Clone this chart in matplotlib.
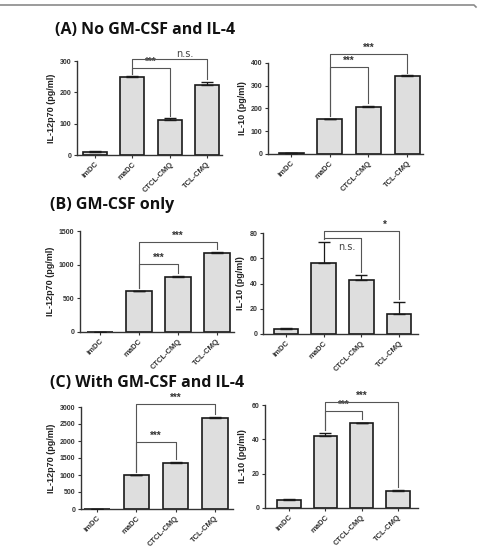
import matplotlib
matplotlib.use('Agg')
import matplotlib.pyplot as plt
from matplotlib.lines import Line2D

categories = ['imDC', 'maDC', 'CTCL-CMQ', 'TCL-CMQ']

a_il12_values = [10, 248, 113, 225]
a_il12_errors = [3, 3, 4, 8]
a_il10_values = [3, 155, 208, 345]
a_il10_errors = [1, 1, 3, 1]
b_il12_values = [5, 610, 820, 1178]
b_il12_errors = [1, 3, 10, 5]
b_il10_values = [3.7, 56, 43, 16]
b_il10_errors = [1.3, 17, 4, 9]
c_il12_values = [5, 995, 1363, 2680]
c_il12_errors = [1, 15, 5, 25]
c_il10_values = [4.8, 42.2, 49.4, 10]
c_il10_errors = [0.2, 1.5, 0.4, 0.5]

# significance brackets: (from, to, height, label)
a_il12_sig = [(1, 2, 278, '***'), (1, 3, 306, 'n.s.')]
a_il10_sig = [(1, 2, 382, '***'), (1, 3, 440, '***')]
b_il12_sig = [(1, 2, 1008, '***'), (1, 3, 1335, '***')]
b_il10_sig = [(1, 2, 76.3, 'n.s.'), (1, 3, 81.6, '*')]
c_il12_sig = [(1, 2, 1975, '***'), (1, 3, 3090, '***')]
c_il10_sig = [(1, 2, 56.3, '***'), (1, 3, 61.8, '***')]

ylabels = ['IL-12p70 (pg/ml)', 'IL-10 (pg/ml)']
titles = ['(A) No GM-CSF and IL-4', '(B) GM-CSF only', '(C) With GM-CSF and IL-4']

fig = plt.figure(figsize=(4.78, 5.53), dpi=100)
W, H = 478, 553

def rect(x0, x1, ytop, ybot):
    return [x0 / W, 1 - ybot / H, (x1 - x0) / W, (ybot - ytop) / H]

panels = [
    (rect(77, 222, 61, 155), a_il12_values, a_il12_errors, a_il12_sig, 300, 100, ylabels[0], (-0.48, 3.4)),
    (rect(268, 423, 63, 154), a_il10_values, a_il10_errors, a_il10_sig, 400, 100, ylabels[1], (-0.6, 3.41)),
    (rect(80, 234, 231, 332), b_il12_values, b_il12_errors, b_il12_sig, 1500, 500, ylabels[0], (-0.51, 3.44)),
    (rect(263, 418, 233, 334), b_il10_values, b_il10_errors, b_il10_sig, 80, 20, ylabels[1], (-0.61, 3.5)),
    (rect(81, 233, 407, 509), c_il12_values, c_il12_errors, c_il12_sig, 3000, 500, ylabels[0], (-0.41, 3.46)),
    (rect(265, 418, 405, 508), c_il10_values, c_il10_errors, c_il10_sig, 60, 20, ylabels[1], (-0.66, 3.55)),
]

tickfont = 'Liberation Sans'
x = list(range(len(categories)))

for pos, vals, errs, sigs, ymax, ystep, ylab, xl in panels:
    ax = fig.add_axes(pos)
    ax.bar(x, vals, width=0.65, color='#dedede', edgecolor='#1a1a1a', linewidth=1.2, zorder=2)
    ax.errorbar(x, vals, yerr=[[0] * len(errs), errs], fmt='none', ecolor='#1a1a1a',
                elinewidth=0.9, capsize=4, capthick=1.0, zorder=3)
    ax.set_ylim(0, ymax)
    ax.set_xlim(*xl)
    ticks = list(range(0, ymax + 1, ystep))
    ax.set_yticks(ticks)
    ax.set_yticklabels([str(t) for t in ticks], fontsize=5, fontweight='bold',
                       family=tickfont, color='#333333')
    ax.set_xticks(x)
    ax.set_xticklabels(categories, rotation=45, ha='right', rotation_mode='anchor',
                       fontsize=5.5, fontweight='bold', family=tickfont, color='#333333')
    ax.set_ylabel(ylab, fontsize=6.5, fontweight='bold', family=tickfont, color='#222222', labelpad=3)
    for s in ['top', 'right']:
        ax.spines[s].set_visible(False)
    for s in ['left', 'bottom']:
        ax.spines[s].set_linewidth(1.0)
        ax.spines[s].set_color('#333333')
    ax.tick_params(axis='both', length=2.5, width=0.8, pad=1.5, colors='#333333')
    gap = ymax * 0.03
    for i, j, h, lab in sigs:
        yi = vals[i] + errs[i] + gap
        yj = vals[j] + errs[j] + gap
        ax.add_line(Line2D([i, i, j, j], [yi, h, h, yj], color='#555555', lw=0.8,
                           clip_on=False, zorder=4))
        if lab == 'n.s.' and h < ymax:
            ax.text((i + j) / 2 + 0.1, h - ymax * 0.04, lab, ha='center', va='top',
                    fontsize=7, color='#444444', family='DejaVu Sans', clip_on=False)
        elif lab == 'n.s.':
            ax.text((i + j) / 2 + 0.4, h + ymax * 0.005, lab, ha='center', va='bottom',
                    fontsize=7, color='#444444', family='DejaVu Sans', clip_on=False)
        else:
            xm = (i + j) / 2 if lab != '*' else 2.63
            ax.text(xm, h + ymax * 0.01, lab, ha='center', va='bottom',
                    fontsize=7, color='#333333', fontweight='bold', family=tickfont, clip_on=False)

for (tx, ty), t in zip([(55, 30), (50, 205), (50, 383)], titles):
    fig.text(tx / W, 1 - ty / H, t, fontsize=11.5, fontweight='bold',
             family='Open Sans', va='center', ha='left', color='#111111')

# frame line at top
fig.add_artist(Line2D([0, 474 / W, 476 / W], [1 - 5 / H, 1 - 5 / H, 1 - 7 / H],
                      transform=fig.transFigure, color='#8a8a8a', lw=1.2))

fig.savefig('out.png', dpi=100, facecolor='white')
